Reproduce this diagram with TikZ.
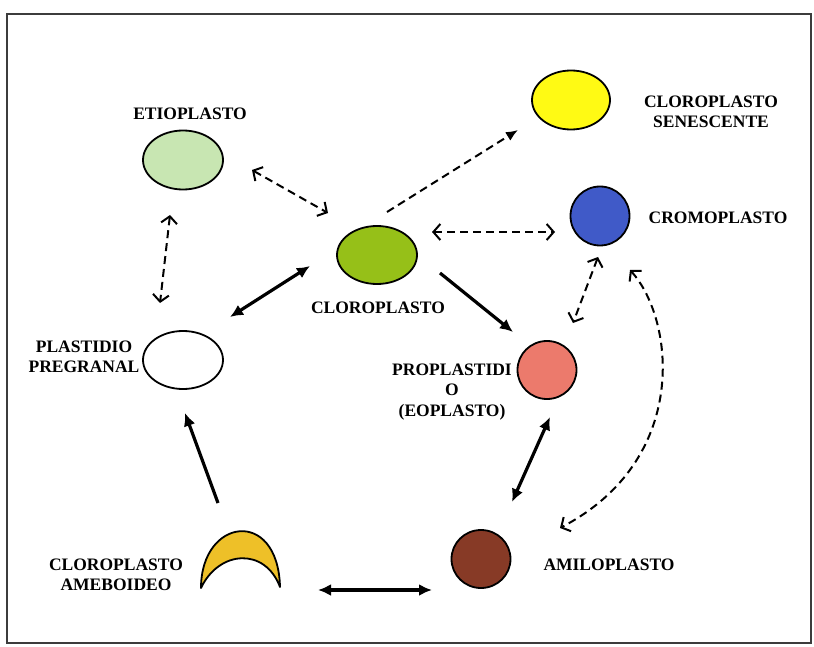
\documentclass[tikz,border=0pt]{standalone}
\usepackage{fontspec}
\setmainfont{Liberation Serif}
\usetikzlibrary{shapes.geometric,arrows.meta}
\definecolor{etiocol}{RGB}{200,230,178}
\definecolor{clorocol}{RGB}{150,192,24}
\definecolor{sencol}{RGB}{255,250,20}
\definecolor{cromocol}{RGB}{64,90,200}
\definecolor{propcol}{RGB}{236,122,108}
\definecolor{amilocol}{RGB}{135,58,38}
\definecolor{amebocol}{RGB}{238,192,40}
\definecolor{framecol}{RGB}{60,60,60}
\tikzset{
  plastid/.style={ellipse, draw=black, line width=1.8pt, inner sep=0pt},
  lbl/.style={font=\fontsize{17.5}{20.5}\selectfont\bfseries, align=center, inner sep=0pt},
  solidarr/.style={line width=3.2pt, {Latex[length=13pt,width=12pt]}-{Latex[length=13pt,width=12pt]}},
  solidone/.style={line width=3.2pt, -{Latex[length=13pt,width=12pt]}},
  dasharr/.style={line width=2pt, dash pattern=on 8pt off 5pt, {Straight Barb[length=7pt,width=16pt]}-{Straight Barb[length=7pt,width=16pt]}},
  dashone/.style={line width=2pt, dash pattern=on 8pt off 5pt, -{Latex[length=12pt,width=10pt]}}
}
\begin{document}
\begin{tikzpicture}[x=1pt,y=-1pt]
\useasboundingbox (0,0) rectangle (814,647);
\draw[framecol, line width=1.3pt] (7,14) rectangle (811,643);

% plastids
\node[plastid, fill=etiocol, minimum width=80pt, minimum height=59pt] (etio) at (183,160) {};
\node[plastid, fill=clorocol, minimum width=80pt, minimum height=58pt] (cloro) at (377,255) {};
\node[plastid, fill=sencol, minimum width=78pt, minimum height=59pt] (sen) at (571,100) {};
\node[plastid, fill=cromocol, minimum width=59pt, minimum height=59pt] (cromo) at (600,216) {};
\node[plastid, fill=white, minimum width=80pt, minimum height=58pt] (plast) at (183,360) {};
\node[plastid, fill=propcol, minimum width=59pt, minimum height=58pt] (prop) at (547,370) {};
\node[plastid, fill=amilocol, minimum width=59pt, minimum height=58pt] (amilo) at (481,559) {};
\coordinate (amebo) at (240,560);
\draw[fill=amebocol, line width=1.8pt, line join=round]
  ([shift={(-39,28)}]amebo) .. controls +(0,-70) and +(-2,-80) .. ([shift={(40,27)}]amebo)
  .. controls +(-15,-40) and +(18,-38) .. ([shift={(-39,28)}]amebo) -- cycle;

% labels
\node[lbl] (letio) at (190,114) {ETIOPLASTO};
\node[lbl] (lcloro) at (378,308) {CLOROPLASTO};
\node[lbl] (lsen) at (711,112) {CLOROPLASTO\\SENESCENTE};
\node[lbl] (lcromo) at (718,218) {CROMOPLASTO};
\node[lbl] (lplast) at (84,357) {PLASTIDIO\\PREGRANAL};
\node[lbl] (lprop) at (452,392) {PROPLASTIDI\\O\\(EOPLASTO)};
\node[lbl] (lamilo) at (609,565) {AMILOPLASTO};
\node[lbl] (lamebo) at (116,575) {CLOROPLASTO\\AMEBOIDEO};

% connectors
\draw[dasharr] ([shift={(69,10)}]etio.center) -- ([shift={(-49,-42)}]cloro.center);
\draw[dasharr] ([shift={(-13,55)}]etio.center) -- ([shift={(-23,-57)}]plast.center);
\draw[solidarr] ([shift={(-67,11)}]cloro.center) -- ([shift={(47,-43)}]plast.center);
\draw[dashone] ([shift={(10,-43)}]cloro.center) -- ([shift={(-53,30)}]sen.center);
\draw[dasharr] ([shift={(55,-23)}]cloro.center) -- ([shift={(-45,16)}]cromo.center);
\draw[solidone] ([shift={(63,18)}]cloro.center) -- ([shift={(-34,-38)}]prop.center);
\draw[dasharr] ([shift={(-2,41)}]cromo.center) -- ([shift={(26,-47)}]prop.center);
\draw[dasharr] ([shift={(30,54)}]cromo.center) .. controls +(45,50) and +(130,-68) .. ([shift={(79,-31)}]amilo.center);
\draw[solidarr] ([shift={(3,47)}]prop.center) -- ([shift={(31,-57)}]amilo.center);
\draw[solidone] ([shift={(-22,-57)}]amebo) -- ([shift={(2,53)}]plast.center);
\draw[solidarr] ([shift={(78,30)}]amebo) -- ([shift={(-49,31)}]amilo.center);
\end{tikzpicture}
\end{document}
